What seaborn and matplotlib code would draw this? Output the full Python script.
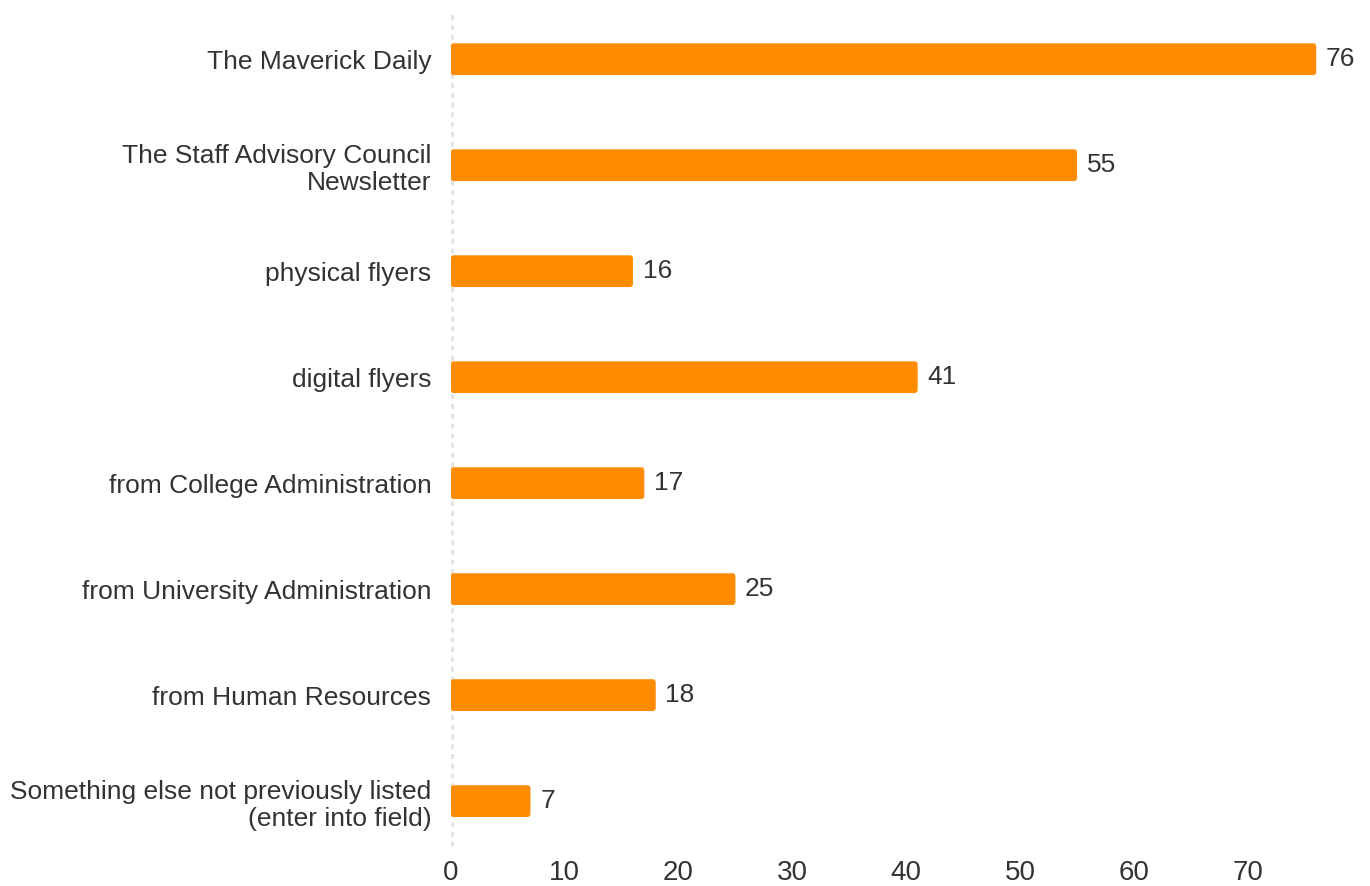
import matplotlib
matplotlib.use("Agg")
from matplotlib import pyplot as plt
from matplotlib.patches import FancyBboxPatch
import seaborn as sns
import pandas as pd

categorii = [
    "The Maverick Daily",
    "The Staff Advisory Council\nNewsletter",
    "physical flyers",
    "digital flyers",
    "from College Administration",
    "from University Administration",
    "from Human Resources",
    "Something else not previously listed\n(enter into field)",
]
valori = [76, 55, 16, 41, 17, 25, 18, 7]
ticks_x = [0, 10, 20, 30, 40, 50, 60, 70]

df = pd.DataFrame({"categorie": categorii, "valoare": valori})

sns.set_style("white")
plt.rcParams['font.family'] = ['Liberation Sans', 'DejaVu Sans']

fig = plt.figure(figsize=(13.7, 8.86), dpi=100)
ax = fig.add_axes([0.329, 0.036, 0.665, 0.957])

sns.barplot(data=df, x="valoare", y="categorie", color="#FF8C00",
            saturation=1, width=0.3, linewidth=0, ax=ax)

# colturi usor rotunjite
for p in list(ax.patches):
    x0, y0, w, h = p.get_x(), p.get_y(), p.get_width(), p.get_height()
    rp = FancyBboxPatch((x0, y0), w, h, boxstyle="round,pad=0,rounding_size=0.25",
                        mutation_aspect=0.12, facecolor="#FF8C00", edgecolor="none")
    p.remove()
    ax.add_patch(rp)

for i, v in enumerate(valori):
    ax.text(v + 0.85, i, str(v), va="center", ha="left", fontsize=19, color="#333333")

ax.set_xlim(0, 80)
ax.set_ylim(7.5, -0.5)
ax.set_xticks(ticks_x)
ax.tick_params(axis="x", labelsize=20, colors="#333333", length=0, pad=4)
ax.tick_params(axis="y", labelsize=19, colors="#333333", length=0, pad=14)
for lbl in ax.get_yticklabels():
    lbl.set_horizontalalignment("right")
    lbl.set_multialignment("right")
ax.set_xlabel("")
ax.set_ylabel("")
for s in ax.spines.values():
    s.set_visible(False)
ax.axvline(0, ymin=0.01, ymax=0.995, color="#e3e3e3", linestyle=(0, (1, 1)), linewidth=3.5, zorder=0)
ax.grid(False)

fig.savefig("out.png", dpi=100)
